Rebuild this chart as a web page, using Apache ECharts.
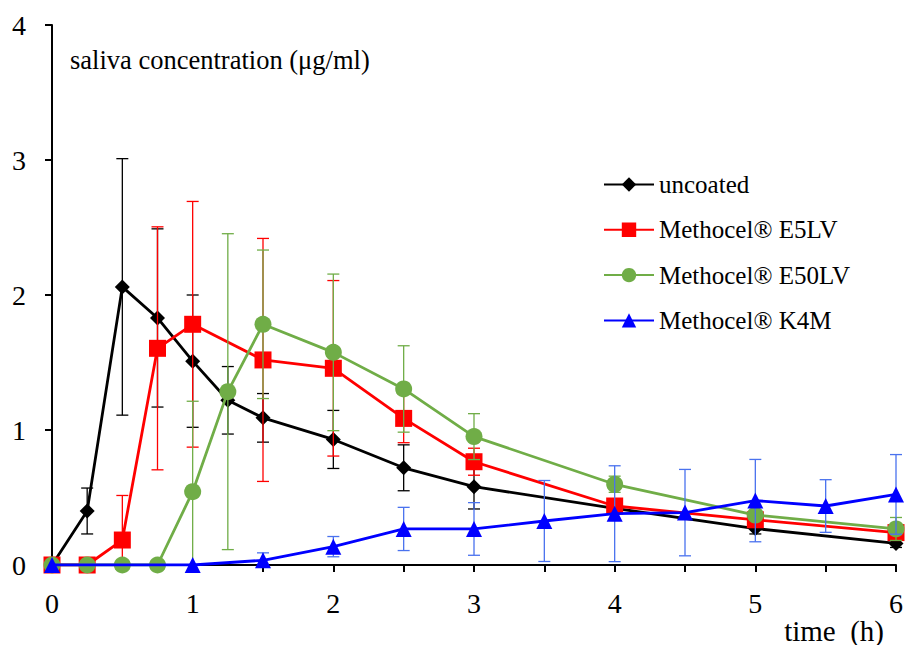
<!DOCTYPE html>
<html>
<head>
<meta charset="utf-8">
<script src="https://cdn.jsdelivr.net/npm/echarts@6/dist/echarts.min.js"></script>
<style>
  html, body { margin: 0; padding: 0; background: #fff; }
  #chart { width: 909px; height: 645px; }
</style>
</head>
<body>
<div id="chart"></div>
<script>
// Sampling times (h) per formulation
const tUncoated = [0, 0.25, 0.5, 0.75, 1, 1.25, 1.5, 2, 2.5, 3, 4, 5, 6];
const tE5LV     = [0, 0.25, 0.5, 0.75, 1, 1.5, 2, 2.5, 3, 4, 5, 6];
const tE50LV    = [0, 0.25, 0.5, 0.75, 1, 1.25, 1.5, 2, 2.5, 3, 4, 5, 6];
const tK4M      = [0, 1, 1.5, 2, 2.5, 3, 3.5, 4, 4.5, 5, 5.5, 6];

// Mean saliva concentration (µg/ml)
const uncoated = [0, 0.40, 2.06, 1.83, 1.51, 1.22, 1.09, 0.93, 0.72, 0.58, 0.42, 0.27, 0.16];
const e5lv     = [0, 0, 0.185, 1.605, 1.783, 1.519, 1.457, 1.086, 0.765, 0.437, 0.335, 0.24];
const e50lv    = [0, 0, 0, 0, 0.543, 1.284, 1.783, 1.575, 1.304, 0.951, 0.598, 0.37, 0.267];
const k4m      = [0, 0, 0.035, 0.136, 0.267, 0.267, 0.326, 0.38, 0.388, 0.477, 0.437, 0.523];

// Standard deviations
const uncoatedSd = [0, 0.17, 0.95, 0.66, 0.49, 0.25, 0.18, 0.215, 0.17, 0.165, 0.04, 0.04, 0.03];
const e5lvSd     = [0, 0, 0.33, 0.90, 0.91, 0.90, 0.65, 0.18, 0.10, 0.05, 0.05, 0.05];
const e50lvSd    = [0, 0, 0, 0, 0.67, 1.17, 0.55, 0.58, 0.32, 0.17, 0.06, 0.03, 0.085];
const k4mSd      = [0, 0, 0.055, 0.075, 0.16, 0.195, 0.30, 0.355, 0.32, 0.305, 0.195, 0.295];

// Axis ticks
const xTicks = [0, 1, 2, 3, 4, 5, 6];
const yTicks = [0, 1, 2, 3, 4];

const FONT = "'Liberation Serif', 'Times New Roman', serif";

const seriesDefs = [
  { name: 'uncoated',        t: tUncoated, v: uncoated, sd: uncoatedSd, color: '#000000', err: '#000000', symbol: 'diamond',  size: 15 },
  { name: 'Methocel® E5LV',  t: tE5LV,     v: e5lv,     sd: e5lvSd,     color: '#ff0000', err: '#ff0000', symbol: 'rect',     size: 17 },
  { name: 'Methocel® E50LV', t: tE50LV,    v: e50lv,    sd: e50lvSd,    color: '#70ad47', err: '#70ad47', symbol: 'circle',   size: 17 },
  { name: 'Methocel® K4M',   t: tK4M,      v: k4m,      sd: k4mSd,      color: '#0000ff', err: '#4a72ee', symbol: 'triangle', size: 16 }
];

// Vertical error bar with caps, clipped at the x axis
function errorBarRenderer(color) {
  return function (params, api) {
    const x = api.value(0), v = api.value(1), e = api.value(2);
    if (!e) return null;
    const lowVal = v - e;
    const hi = api.coord([x, v + e]);
    const lo = api.coord([x, Math.max(0, lowVal)]);
    const hw = 6;
    const style = { stroke: color, lineWidth: 1.3, fill: null };
    const children = [
      { type: 'line', shape: { x1: hi[0], y1: hi[1], x2: lo[0], y2: lo[1] }, style },
      { type: 'line', shape: { x1: hi[0] - hw, y1: hi[1], x2: hi[0] + hw, y2: hi[1] }, style }
    ];
    if (lowVal > 0) {
      children.push({ type: 'line', shape: { x1: lo[0] - hw, y1: lo[1], x2: lo[0] + hw, y2: lo[1] }, style });
    }
    return { type: 'group', children };
  };
}

const series = [];
seriesDefs.forEach((d, i) => {
  series.push({
    type: 'custom',
    name: d.name + ' sd',
    z: 2 + i * 2,
    silent: true,
    renderItem: errorBarRenderer(d.err),
    encode: { x: 0, y: 1 },
    data: d.t.map((t, k) => [t, d.v[k], d.sd[k]])
  });
  series.push({
    type: 'line',
    name: d.name,
    z: 3 + i * 2,
    symbol: d.symbol,
    symbolSize: d.size,
    showAllSymbol: true,
    animation: false,
    lineStyle: { color: d.color, width: 2.8 },
    itemStyle: { color: d.color },
    data: d.t.map((t, k) => [t, d.v[k]])
  });
});

const chart = echarts.init(document.getElementById('chart'), null, { renderer: 'svg' });
chart.setOption({
  animation: false,
  backgroundColor: '#ffffff',
  grid: { left: 52, right: 13, top: 25, bottom: 80, containLabel: false },
  xAxis: {
    type: 'value', min: 0, max: 6, interval: 0.5,
    axisLine: { show: true, onZero: false, lineStyle: { color: '#000', width: 2 } },
    axisTick: { show: true, length: 7, lineStyle: { color: '#000', width: 2 } },
    axisLabel: {
      margin: 24, color: '#000', fontFamily: FONT, fontSize: 28,
      formatter: v => (xTicks.indexOf(v) >= 0 ? String(v) : '')
    },
    splitLine: { show: false }
  },
  yAxis: {
    type: 'value', min: 0, max: 4, interval: 1,
    axisLine: { show: true, lineStyle: { color: '#000', width: 2 } },
    axisTick: { show: true, length: 7, lineStyle: { color: '#000', width: 2 } },
    axisLabel: {
      margin: 26, color: '#000', fontFamily: FONT, fontSize: 28,
      formatter: v => (yTicks.indexOf(v) >= 0 ? String(v) : '')
    },
    splitLine: { show: false }
  },
  legend: {
    orient: 'vertical',
    left: 598, top: 167,
    itemWidth: 50, itemHeight: 18, itemGap: 20.3,
    data: seriesDefs.map(d => d.name),
    textStyle: { fontFamily: FONT, fontSize: 25, color: '#000', lineHeight: 24 }
  },
  graphic: [
    { type: 'text', left: 70, top: 46, style: { text: 'saliva concentration (μg/ml)', fontFamily: FONT, fontSize: 26.5, fill: '#000' } },
    { type: 'text', right: 25, top: 616, style: { text: 'time  (h)', fontFamily: FONT, fontSize: 29, fill: '#000' } }
  ],
  series
});
</script>
</body>
</html>
